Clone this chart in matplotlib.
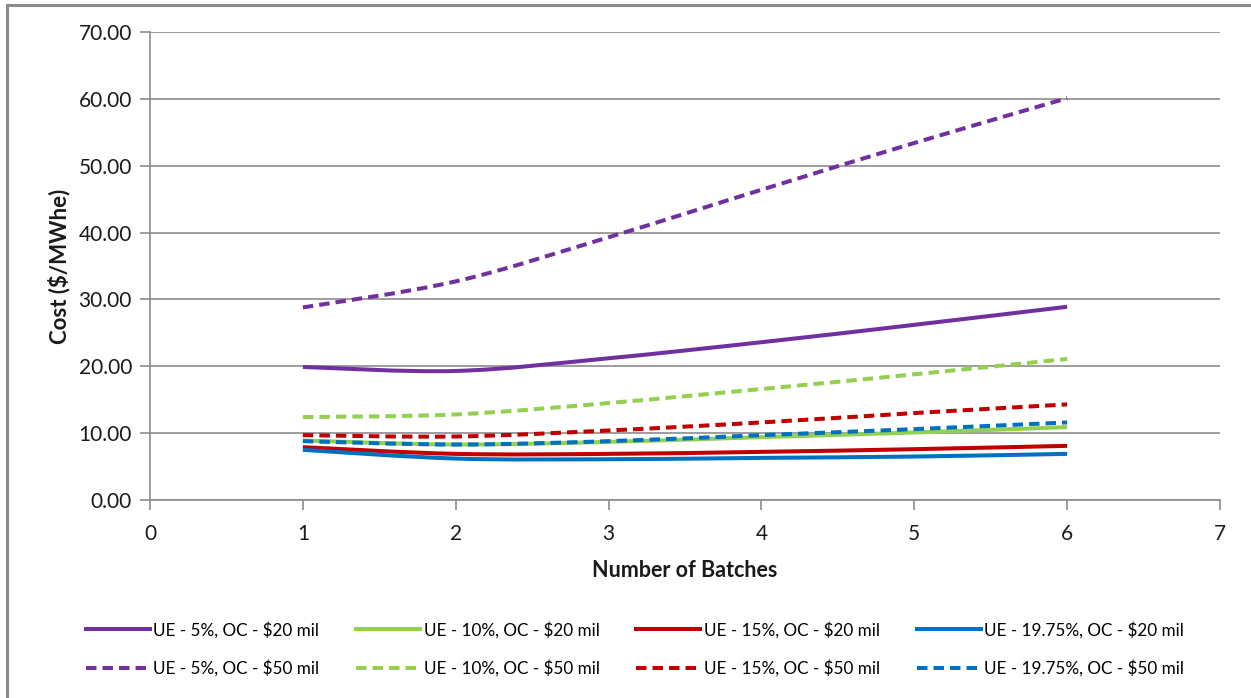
import matplotlib
matplotlib.use("Agg")
import matplotlib.pyplot as plt
from matplotlib.path import Path
from matplotlib.patches import PathPatch, Rectangle
from matplotlib.lines import Line2D
import numpy as np

plt.rcParams['font.family'] = ['Lato', 'DejaVu Sans']

# Number of batches
batches = [1, 2, 3, 4, 5, 6]

# Cost ($/MWhe) per scenario; UE = uranium enrichment, OC = operating cost
ue5_oc20 = [19.9, 19.3, 21.2, 23.6, 26.2, 28.9]
ue10_oc20 = [8.9, 8.3, 8.7, 9.4, 10.1, 10.9]
ue15_oc20 = [7.9, 6.9, 6.9, 7.2, 7.6, 8.1]
ue1975_oc20 = [7.5, 6.2, 6.1, 6.3, 6.5, 6.9]
ue5_oc50 = [28.8, 32.7, 39.3, 46.4, 53.4, 60.1]
ue10_oc50 = [12.4, 12.8, 14.5, 16.6, 18.8, 21.1]
ue15_oc50 = [9.7, 9.5, 10.4, 11.6, 13.0, 14.3]
ue1975_oc50 = [8.8, 8.3, 8.8, 9.7, 10.6, 11.6]

labels_oc20 = ["UE - 5%, OC - $20 mil", "UE - 10%, OC - $20 mil",
               "UE - 15%, OC - $20 mil", "UE - 19.75%, OC - $20 mil"]
labels_oc50 = ["UE - 5%, OC - $50 mil", "UE - 10%, OC - $50 mil",
               "UE - 15%, OC - $50 mil", "UE - 19.75%, OC - $50 mil"]
colors = ["#7030A0", "#92D050", "#C00000", "#0070C0"]

y_ticks = [0, 10, 20, 30, 40, 50, 60, 70]
x_ticks = [0, 1, 2, 3, 4, 5, 6, 7]

W, H = 1251, 698
fig = plt.figure(figsize=(W / 100, H / 100), dpi=100)
ax = fig.add_axes([150 / W, 1 - 500 / H, (1220 - 150) / W, (500 - 32) / H])

# outer chart frame
fig.patches.append(Rectangle((7 / W, -0.05), 1.2, 1 - 5 / H + 0.05,
                             transform=fig.transFigure, fill=False,
                             edgecolor="#8c8c8c", linewidth=2.2, zorder=0))

LW = 2.9
DASH = (2.6, 1.5)


def smooth_path(xs, ys):
    """Cubic Bezier path through the points (Catmull-Rom style smoothing)."""
    pts = np.column_stack([xs, ys]).astype(float)
    n = len(pts)
    verts = [pts[0]]
    codes = [Path.MOVETO]
    for i in range(n - 1):
        p0 = pts[i - 1] if i > 0 else pts[i]
        p1 = pts[i]
        p2 = pts[i + 1]
        p3 = pts[i + 2] if i + 2 < n else pts[i + 1]
        c1 = p1 + (p2 - p0) / 6.0
        c2 = p2 - (p3 - p1) / 6.0
        verts += [c1, c2, p2]
        codes += [Path.CURVE4] * 3
    return Path(verts, codes)


def draw_series(values, color, dashed):
    patch = PathPatch(smooth_path(batches, values), facecolor="none",
                      edgecolor=color, linewidth=LW, zorder=3,
                      capstyle="butt", joinstyle="round")
    if dashed:
        patch.set_linestyle((0, DASH))
    ax.add_patch(patch)


series_oc20 = [ue5_oc20, ue10_oc20, ue15_oc20, ue1975_oc20]
series_oc50 = [ue5_oc50, ue10_oc50, ue15_oc50, ue1975_oc50]

for vals, c in zip(series_oc20, colors):
    draw_series(vals, c, False)
for vals, c in zip(series_oc50, colors):
    draw_series(vals, c, True)

ax.set_xlim(0, 7)
ax.set_ylim(0, 70)
ax.set_xticks(x_ticks)
ax.set_yticks(y_ticks)
ax.set_yticklabels([f"{v:.2f}" for v in y_ticks])
ax.yaxis.grid(True, color="#8c8c8c", linewidth=1.2)
ax.set_axisbelow(True)
for s in ["top", "right"]:
    ax.spines[s].set_visible(False)
for s in ["left", "bottom"]:
    ax.spines[s].set_color("#8c8c8c")
    ax.spines[s].set_linewidth(1.2)
ax.tick_params(axis="both", direction="out", length=7, width=1.2,
               color="#8c8c8c", labelsize=15, labelcolor="#1a1a1a")
ax.tick_params(axis="x", pad=10)
ax.tick_params(axis="y", pad=6)

ax.set_xlabel("Number of Batches", fontsize=15.5, fontweight="bold",
              labelpad=12, color="#1a1a1a")
ax.set_ylabel("Cost ($/MWhe)", fontsize=16, fontweight="bold",
              labelpad=6, color="#1a1a1a")

# legend: solid row on top, dashed row below (column-major ordering)
handles, labels = [], []
for c, l20, l50 in zip(colors, labels_oc20, labels_oc50):
    handles.append(Line2D([], [], color=c, linewidth=LW))
    labels.append(l20)
    handles.append(Line2D([], [], color=c, linewidth=LW, linestyle=(0, DASH)))
    labels.append(l50)

fig.legend(handles, labels, ncol=4, loc="center",
           bbox_to_anchor=(635 / W, 1 - 649 / H), frameon=False,
           fontsize=12.3, handlelength=3.75, handletextpad=0.2,
           columnspacing=2.15, labelspacing=1.25)

fig.savefig("out.png", dpi=100)
